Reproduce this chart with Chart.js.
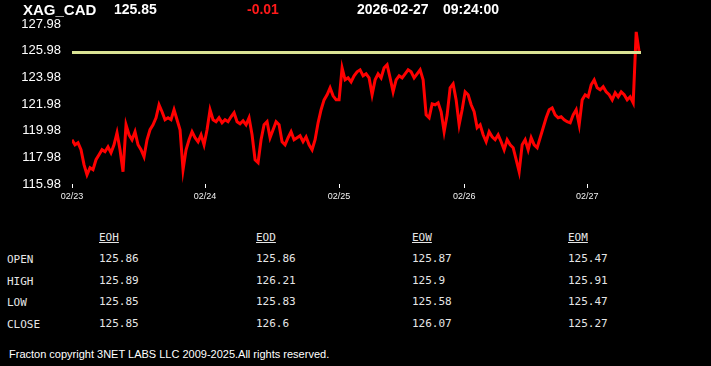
<!DOCTYPE html>
<html>
<head>
<meta charset="utf-8">
<script src="https://cdn.jsdelivr.net/npm/chart.js@4.4.1/dist/chart.umd.min.js"></script>
<style>
  html, body { margin:0; padding:0; background:#000; width:711px; height:366px; overflow:hidden; }
  #wrap { position:relative; width:711px; height:366px; }
  canvas { position:absolute; left:0; top:0; }
  .t { position:absolute; white-space:nowrap; line-height:1; }
  .hd { font-family:"Liberation Sans", Arial, sans-serif; font-weight:bold; font-size:14px; color:#fff; }
  .tb { font-family:"DejaVu Sans Mono", "Liberation Mono", monospace; font-size:11px; color:#e6e6e6; }
  .u { text-decoration:underline; }
  .cp { font-family:"Liberation Sans", Arial, sans-serif; font-size:11px; color:#fff; }
</style>
</head>
<body>
<div id="wrap">
  <canvas id="c" width="711" height="214"></canvas>
  <div id="hdr"></div>
  <div id="tbl"></div>
  <div class="t cp" style="left:9px; top:349px;">Fracton copyright 3NET LABS LLC 2009-2025.All rights reserved.</div>
</div>
<script>
// ---- data ----
const symbol = "XAG_CAD";
const lastPrice = 125.85;
const change = "-0.01";
const dateText = "2026-02-27";
const timeText = "09:24:00";

const dayLabels = ["02/23", "02/24", "02/25", "02/26", "02/27"];
const dayStartIndex = [0, 44.33, 89, 130.67, 171.67];

const yTicks = [115.98, 117.98, 119.98, 121.98, 123.98, 125.98, 127.98];

const prices02_23 = [119.30,118.92,119.07,118.55,117.43,116.67,117.20,117.05,117.80,118.17,
  118.55,118.40,118.77,118.32,118.92,119.82,118.55,116.90,120.42,119.67,
  119.30,119.90,118.92,118.55,118.02,119.30,120.05,120.42,120.95,121.92,
  121.40,120.80,120.95,120.80,121.55,120.80,120.05,117.05,118.55,119.30,
  119.90,119.45,119.15,119.67,118.92];
const prices02_24 = [120.05,121.55,120.80,120.65,120.95,120.57,120.80,120.65,121.02,121.32,
  120.65,120.50,120.72,120.42,120.95,119.67,117.80,117.58,119.30,120.42,
  120.65,119.45,120.05,120.65,120.42,119.15,118.92,119.45,119.90,119.30,
  119.45,119.60,119.15,119.52,118.92,118.55,119.30,120.57,121.55,122.29,
  122.67,123.19,122.59,122.29];
const prices02_25 = [122.29,124.69,123.79,123.94,123.64,124.09,124.39,124.54,124.09,124.24,
  123.94,122.67,123.79,124.24,123.94,124.69,124.92,123.94,122.89,123.79,
  124.09,123.94,124.24,124.54,124.39,123.94,124.24,124.54,123.79,121.17,
  120.95,121.99,121.92,122.07,121.40,119.90,121.17,123.19,123.49,122.29,
  120.42,121.55];
const prices02_26 = [122.89,122.67,121.92,121.40,120.20,120.42,119.67,119.15,119.90,119.52,
  119.30,119.67,119.15,118.55,119.30,118.92,118.70,117.80,116.90,118.92,
  119.30,118.55,119.45,118.92,118.70,119.45,120.20,120.95,121.55,121.69,
  121.17,120.95,121.02,120.80,120.65,120.57,121.17,121.55,120.42,122.29,
  122.67];
const prices02_27 = [122.52,123.42,123.79,123.19,123.04,123.27,122.89,122.67,122.29,122.82,
  122.52,122.89,122.67,122.29,122.52,122.07,127.39,125.85];

const tableCols = ["EOH", "EOD", "EOW", "EOM"];
const tableRows = ["OPEN", "HIGH", "LOW", "CLOSE"];
const tableEOH = ["125.86", "125.89", "125.85", "125.85"];
const tableEOD = ["125.86", "126.21", "125.83", "126.6"];
const tableEOW = ["125.87", "125.9", "125.58", "126.07"];
const tableEOM = ["125.47", "125.91", "125.47", "125.27"];

// ---- header & table ----
const hdr = document.getElementById('hdr');
function addText(parent, cls, text, left, top, extra) {
  const d = document.createElement('div');
  d.className = 't ' + cls;
  d.textContent = text;
  d.style.left = left + 'px';
  d.style.top = top + 'px';
  if (extra) Object.assign(d.style, extra);
  parent.appendChild(d);
}
addText(hdr, 'hd', symbol, 23, 2, {fontSize: '15px'});
addText(hdr, 'hd', lastPrice.toFixed(2), 114, 2);
addText(hdr, 'hd', change, 247, 2, {color: '#ff1a1a'});
addText(hdr, 'hd', dateText, 357, 2);
addText(hdr, 'hd', timeText, 443, 2);

const tbl = document.getElementById('tbl');
const colX = [99, 256, 412, 568];
const rowY = [253, 275, 296, 318];
const colData = [tableEOH, tableEOD, tableEOW, tableEOM];
tableCols.forEach((c, i) => addText(tbl, 'tb u', c, colX[i], 232));
tableRows.forEach((r, j) => {
  addText(tbl, 'tb', r, 7, rowY[j] + 1);
  colData.forEach((col, i) => addText(tbl, 'tb', col[j], colX[i], rowY[j]));
});

// ---- chart ----
const prices = [].concat(prices02_23, prices02_24, prices02_25, prices02_26, prices02_27);
const lastIdx = prices.length - 1;
const pricePts = prices.map((v, i) => ({x: i, y: v}));
const refPts = [{x: 0, y: lastPrice}, {x: lastIdx + 0.6, y: lastPrice}];

new Chart(document.getElementById('c'), {
  type: 'line',
  data: {
    datasets: [
      { data: pricePts, borderColor: '#ff0000', borderWidth: 3, pointRadius: 0, tension: 0, order: 2 },
      { data: refPts, borderColor: '#dae394', borderWidth: 3, pointRadius: 0, tension: 0, order: 1 }
    ]
  },
  options: {
    responsive: false,
    animation: false,
    devicePixelRatio: 1,
    layout: { padding: { top: 24, right: 70, bottom: 0, left: 0 } },
    plugins: { legend: { display: false }, tooltip: { enabled: false } },
    scales: {
      x: {
        type: 'linear',
        min: 0,
        max: lastIdx + 0.6,
        grid: { display: true, drawOnChartArea: false, drawTicks: true, tickLength: 4, color: '#ffffff' },
        border: { display: false },
        afterBuildTicks: (s) => { s.ticks = dayStartIndex.map(v => ({value: v})); },
        afterFit: (s) => { s.height = 30; },
        ticks: {
          autoSkip: false, maxRotation: 0, padding: 3,
          color: '#f0f0f0',
          font: { family: 'Liberation Sans', size: 9 },
          callback: (v, i) => dayLabels[i]
        }
      },
      y: {
        min: 115.98,
        max: 127.98,
        grid: { display: false, drawTicks: false },
        border: { display: false },
        afterBuildTicks: (s) => { s.ticks = yTicks.map(v => ({value: v})); },
        afterFit: (s) => { s.width = 72; },
        ticks: {
          padding: 11,
          color: '#ffffff',
          font: { family: 'Liberation Sans', size: 13 },
          callback: (v) => v.toFixed(2)
        }
      }
    }
  }
});
</script>
</body>
</html>
